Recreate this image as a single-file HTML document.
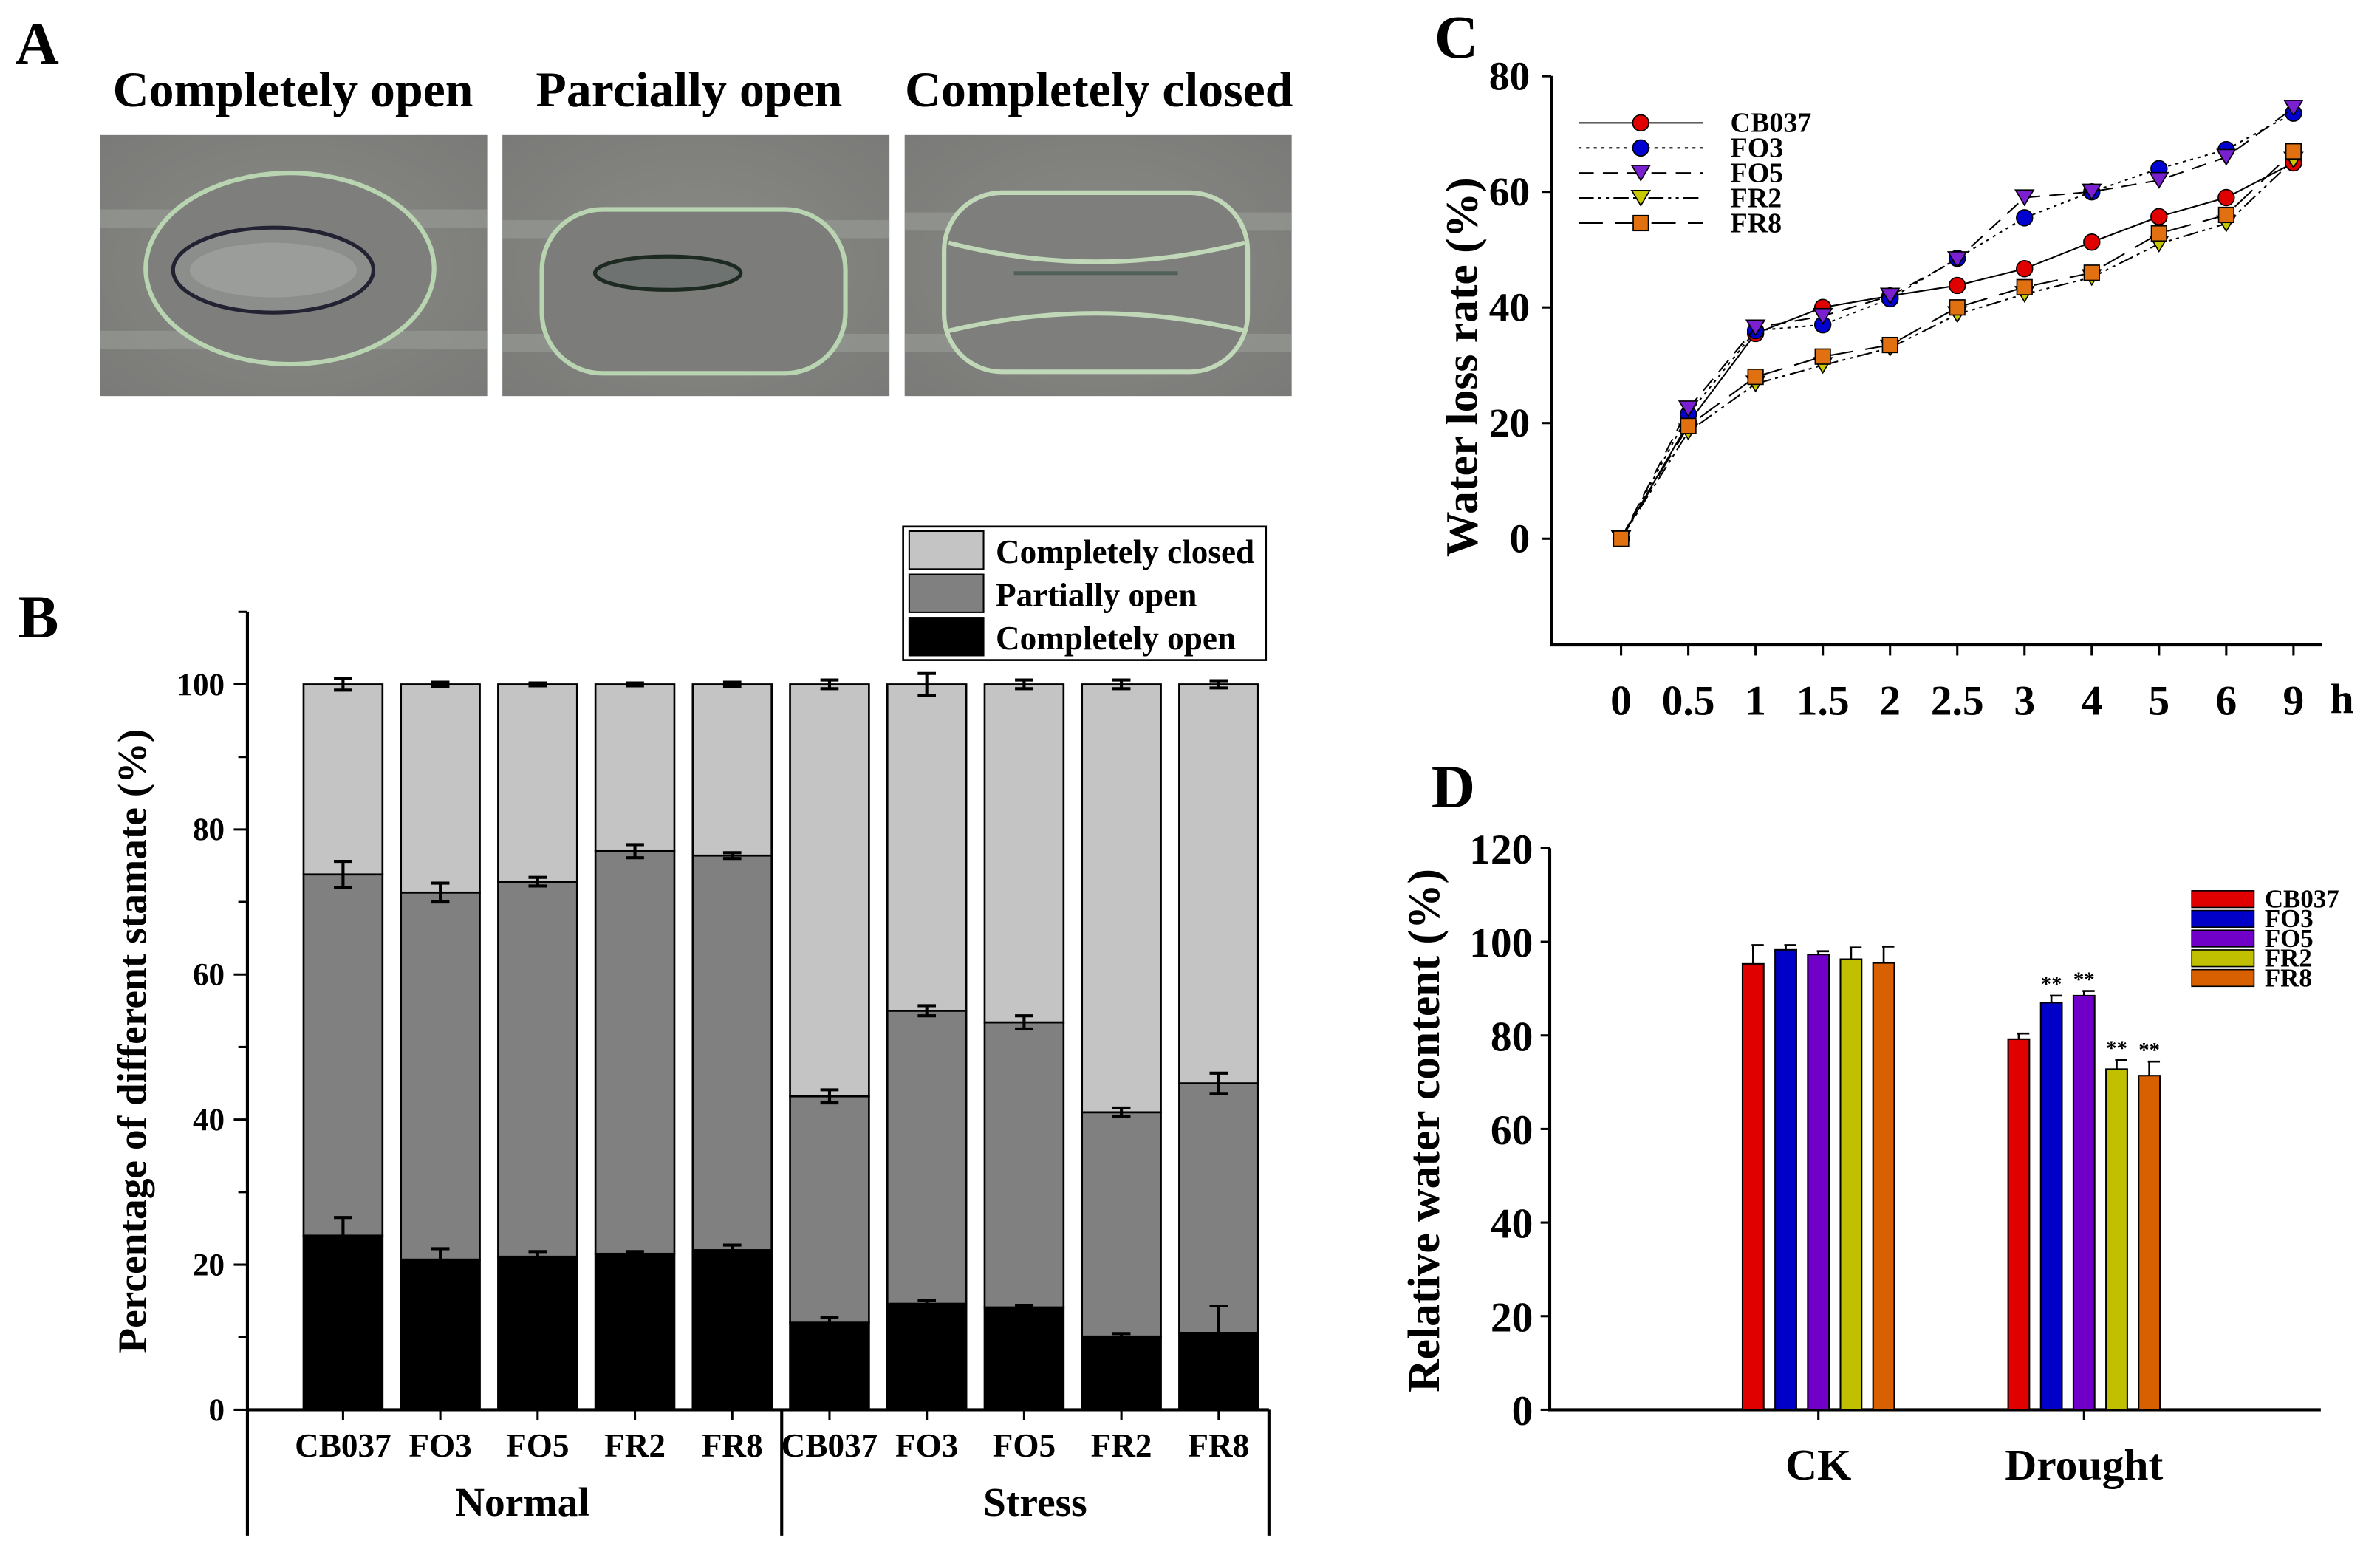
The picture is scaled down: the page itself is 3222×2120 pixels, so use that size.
<!DOCTYPE html>
<html><head><meta charset="utf-8">
<style>
html,body{margin:0;padding:0;background:#fff;}
svg{display:block;font-family:"Liberation Serif",serif;font-weight:bold;}
</style></head>
<body>
<svg id="fig" width="3222" height="2120" viewBox="0 0 1568 1032" preserveAspectRatio="none" xmlns="http://www.w3.org/2000/svg">
<defs>
<radialGradient id="bg" cx="50%" cy="50%" r="70%"><stop offset="0" stop-color="#8a8a86"/><stop offset="1" stop-color="#7a7a78"/></radialGradient>
</defs>
<g>
<text x="10" y="42" font-size="40">A</text>
<text x="193" y="70" font-size="33" text-anchor="middle">Completely open</text>
<text x="454" y="70" font-size="33" text-anchor="middle">Parcially open</text>
<text x="724" y="70" font-size="33" text-anchor="middle">Completely closed</text>
<g>
<rect x="66" y="89" width="255" height="172" fill="url(#bg)"/>
<rect x="66" y="138" width="255" height="12" fill="#9a9c98" opacity="0.6"/>
<rect x="66" y="218" width="255" height="12" fill="#9a9c98" opacity="0.6"/>
<ellipse cx="191" cy="177" rx="95" ry="63" fill="#7e7e7c" stroke="#b8d4b0" stroke-width="3"/>
<ellipse cx="180" cy="178" rx="66" ry="28" fill="#8c8e8c" stroke="#223" stroke-width="2.5"/>
<ellipse cx="180" cy="178" rx="55" ry="18" fill="#a0a4a0" opacity="0.7"/>
</g>
<g>
<rect x="331" y="89" width="255" height="172" fill="url(#bg)"/>
<rect x="331" y="145" width="255" height="12" fill="#9a9c98" opacity="0.6"/>
<rect x="331" y="220" width="255" height="12" fill="#9a9c98" opacity="0.6"/>
<rect x="357" y="138" width="200" height="108" rx="40" fill="#7c7c7a" stroke="#b8d4b0" stroke-width="3"/>
<ellipse cx="440" cy="180" rx="48" ry="11" fill="#6e7270" stroke="#1d2a22" stroke-width="2.5"/>
</g>
<g>
<rect x="596" y="89" width="255" height="172" fill="url(#bg)"/>
<rect x="596" y="140" width="255" height="12" fill="#9a9c98" opacity="0.6"/>
<rect x="596" y="220" width="255" height="12" fill="#9a9c98" opacity="0.6"/>
<rect x="622" y="127" width="200" height="118" rx="38" fill="#7e7e7c" stroke="#c0d8b8" stroke-width="3"/>
<path d="M625 160 Q722 185 820 160" fill="none" stroke="#c0d8b8" stroke-width="3"/>
<path d="M625 218 Q722 195 820 218" fill="none" stroke="#c0d8b8" stroke-width="3"/>
<line x1="668" y1="180" x2="776" y2="180" stroke="#50605a" stroke-width="2.5"/>
</g>
</g>
<g id="pb"></g>
<g id="pc"></g>
<g id="pd"></g>
</svg>
<script>
// ---------- Panel B data ----------
const bCategories = ["CB037","FO3","FO5","FR2","FR8","CB037","FO3","FO5","FR2","FR8"];
const bGroups = ["Normal","Stress"];
const bOpen = [24,20.7,21.1,21.5,22,12,14.6,14.1,10.1,10.6];
const bPartialTop = [73.8,71.3,72.8,77,76.4,43.2,55,53.4,41,45];
const bTotal = [100,100,100,100,100,100,100,100,100,100];
const bOpenErr = [2.5,1.5,0.7,0.3,0.7,0.7,0.5,0.3,0.4,3.7];
const bPartialErr = [1.8,1.3,0.6,0.9,0.4,0.9,0.7,0.9,0.6,1.4];
const bClosedErr = [0.8,0.3,0.2,0.2,0.3,0.6,1.5,0.6,0.6,0.5];
const bTicks = [0,20,40,60,80,100];
// ---------- Panel C data ----------
const cTimes = ["0","0.5","1","1.5","2","2.5","3","4","5","6","9"];
const cNames = ["CB037","FO3","FO5","FR2","FR8"];
const cCB037 = [0,20,35.5,40,42,43.8,46.7,51.3,55.7,59,65];
const cFO3 = [0,21.5,36,37,41.5,48.5,55.5,60,64,67.3,73.6];
const cFO5 = [0,22.5,36.5,38.5,42,48.3,59,60,62,66,74.5];
const cFR2 = [0,18.5,26.8,30,33,38.8,42.3,45.2,51,54.5,65.5];
const cFR8 = [0,19.5,28,31.5,33.5,40,43.5,46,52.8,56,67];
const cTicks = [0,20,40,60,80];
// ---------- Panel D data ----------
const dGroups = ["CK","Drought"];
const dNames = ["CB037","FO3","FO5","FR2","FR8"];
const dCK = [95.3,98.3,97.3,96.3,95.5];
const dCKErr = [4,1,0.7,2.5,3.5];
const dDrought = [79.2,87,88.5,72.8,71.4];
const dDroughtErr = [1.2,1.5,1,2,3];
const dSig = ["","**","**","**","**"];
const dTicks = [0,20,40,60,80,100,120];

const NS="http://www.w3.org/2000/svg";
function mk(parent,tag,attrs,text){const e=document.createElementNS(NS,tag);for(const k in attrs)e.setAttribute(k,attrs[k]);if(text!==undefined)e.textContent=text;parent.appendChild(e);return e;}

// ===== Panel B =====
(function(){
const g=document.getElementById('pb');
const yB=v=>929-v*4.78;
const xB=i=>226+i*64.1;
const bw=52;
let t=mk(g,'text',{x:12,y:420,'font-size':40});
t.textContent='B';
const st={stroke:'#000','stroke-width':1.3};
bCategories.forEach((c,i)=>{
 const x=xB(i)-bw/2;
 const segs=[[0,bOpen[i],'#000','open'],[bOpen[i],bPartialTop[i],'#808080','partial'],[bPartialTop[i],bTotal[i],'#c4c4c4','closed']];
 segs.forEach(s=>{
  const r=mk(g,'rect',Object.assign({x:x,y:yB(s[1]),width:bw,height:yB(s[0])-yB(s[1]),fill:s[2]},st));
  
  
 });
 [[bOpen[i],bOpenErr[i]],[bPartialTop[i],bPartialErr[i]],[bTotal[i],bClosedErr[i]]].forEach(e=>{
  const p=mk(g,'path',{d:`M${xB(i)} ${yB(e[0]+e[1])}V${yB(e[0]-e[1])}M${xB(i)-6} ${yB(e[0]+e[1])}h12M${xB(i)-6} ${yB(e[0]-e[1])}h12`,stroke:'#000','stroke-width':2,fill:'none'});
  
  
 });
 const l=mk(g,'text',{x:xB(i),y:960,'font-size':22,'text-anchor':'middle'},c);
 
 
 mk(g,'line',{x1:xB(i),y1:929,x2:xB(i),y2:936,stroke:'#000','stroke-width':1.5});
});
mk(g,'path',{d:'M163 403V1012M163 929H836M515 929V1012M836 929V1012',stroke:'#000','stroke-width':2,fill:'none'});
for(let v=0;v<=110;v+=10){mk(g,'line',{x1:v%20==0?154:157,y1:yB(v),x2:163,y2:yB(v),stroke:'#000','stroke-width':1.5});}
bTicks.forEach(v=>{const l=mk(g,'text',{x:148,y:yB(v)+7,'font-size':21,'text-anchor':'end'},v);
 });
bGroups.forEach((n,k)=>{const l=mk(g,'text',{x:k?682:344,y:999,'font-size':27,'text-anchor':'middle'},n);
 });
const yl=mk(g,'text',{x:0,y:0,'font-size':27,'text-anchor':'middle',transform:'translate(96 686) rotate(-90)'},'Percentage of different stamate (%)');

const lg=mk(g,'g',{});

mk(lg,'rect',{x:595,y:347,width:239,height:88,fill:'#fff',stroke:'#000','stroke-width':1.3});
[['Completely closed','#c4c4c4'],['Partially open','#808080'],['Completely open','#000']].forEach((e,k)=>{
 mk(lg,'rect',{x:599,y:350+k*28.5,width:49,height:25,fill:e[1],stroke:'#000','stroke-width':1});
 const l=mk(lg,'text',{x:656,y:371+k*28.5,'font-size':22},e[0]);
 
});
})();

// ===== Panel C =====
(function(){
const g=document.getElementById('pc');
const yC=v=>355-v*3.81;
const xC=i=>1068+i*44.3;
let t=mk(g,'text',{x:945,y:38,'font-size':40},'C');

mk(g,'path',{d:'M1022 50V425H1530',stroke:'#000','stroke-width':2,fill:'none'});
cTicks.forEach(v=>{mk(g,'line',{x1:1016,y1:yC(v),x2:1022,y2:yC(v),stroke:'#000','stroke-width':1.5});
 const l=mk(g,'text',{x:1008,y:yC(v)+9,'font-size':27,'text-anchor':'end'},v);
 });
cTimes.forEach((c,i)=>{mk(g,'line',{x1:xC(i),y1:425,x2:xC(i),y2:432,stroke:'#000','stroke-width':1.5});
 const l=mk(g,'text',{x:xC(i),y:471,'font-size':28,'text-anchor':'middle'},c);
 });
let h=mk(g,'text',{x:1543,y:470,'font-size':28,'text-anchor':'middle'},'h');

const yl=mk(g,'text',{x:0,y:0,'font-size':30,'text-anchor':'middle',transform:'translate(973 242) rotate(-90)'},'Water loss rate (%)');

const series=[cCB037,cFO3,cFO5,cFR2,cFR8];
const cols=['#e00000','#0000d0','#7a20d0','#c8c800','#e07010'];
const dash=['','2,3','10,6','10,3,2,3,2,3','16,8'];
const shp=['c','c','v','v','s'];
function marker(p,x,y,k){let m;
 if(shp[k]=='c')m=mk(p,'circle',{cx:x,cy:y,r:5.3,fill:cols[k],stroke:'#000','stroke-width':0.8});
 else if(shp[k]=='v')m=mk(p,'path',{d:`M${x-6} ${y-5}h12l-6 10z`,fill:cols[k],stroke:'#000','stroke-width':0.8});
 else m=mk(p,'rect',{x:x-5,y:y-5,width:10,height:10,fill:cols[k],stroke:'#000','stroke-width':0.8});
 return m;}
series.forEach((s,k)=>{
 const sg=mk(g,'g',{});
 
 mk(sg,'polyline',{points:s.map((v,i)=>xC(i)+','+yC(v)).join(' '),fill:'none',stroke:'#000','stroke-width':1,'stroke-dasharray':dash[k]});
 s.forEach((v,i)=>{const m=marker(sg,xC(i),yC(v),k);
  });
 const ly=81+k*16.5;
 mk(g,'line',{x1:1040,y1:ly,x2:1122,y2:ly,stroke:'#000','stroke-width':1,'stroke-dasharray':dash[k]});
 marker(g,1081,ly,k);
 const l=mk(g,'text',{x:1140,y:ly+6,'font-size':18.5},cNames[k]);
 
});
})();

// ===== Panel D =====
(function(){
const g=document.getElementById('pd');
const yD=v=>929-v*3.083;
const gc=[1198,1373];
const bw=14, sp=21.5;
let t=mk(g,'text',{x:943,y:532,'font-size':40},'D');

mk(g,'path',{d:'M1021 559V929H1529',stroke:'#000','stroke-width':2,fill:'none'});
dTicks.forEach(v=>{mk(g,'line',{x1:1015,y1:yD(v),x2:1021,y2:yD(v),stroke:'#000','stroke-width':1.5});
 const l=mk(g,'text',{x:1010,y:yD(v)+10,'font-size':28,'text-anchor':'end'},v);
 });
const yl=mk(g,'text',{x:0,y:0,'font-size':30,'text-anchor':'middle',transform:'translate(948 745) rotate(-90)'},'Relative water content (%)');

const cols=['#e00000','#0000c8','#7000c8','#c0c000','#d86000'];
[[dCK,dCKErr],[dDrought,dDroughtErr]].forEach((grp,gi)=>{
 mk(g,'line',{x1:gc[gi],y1:929,x2:gc[gi],y2:936,stroke:'#000','stroke-width':1.5});
 const l=mk(g,'text',{x:gc[gi],y:975,'font-size':29,'text-anchor':'middle'},dGroups[gi]);
 
 grp[0].forEach((v,i)=>{
  const cx=gc[gi]+(i-2)*sp;
  const r=mk(g,'rect',{x:cx-bw/2,y:yD(v),width:bw,height:yD(0)-yD(v),fill:cols[i],stroke:'#000','stroke-width':1});
  
  
  const e=grp[1][i];
  mk(g,'path',{d:`M${cx} ${yD(v)}V${yD(v+e)}M${cx-1} ${yD(v+e)}h${bw/2+1}`,stroke:'#000','stroke-width':1.3,fill:'none'});
  if(gi==1&&dSig[i]){const s=mk(g,'text',{x:cx,y:yD(v+e)-3,'font-size':14,'text-anchor':'middle'},dSig[i]);
   }
 });
});
dNames.forEach((n,k)=>{
 mk(g,'rect',{x:1444,y:587+k*13,width:41,height:11,fill:cols[k],stroke:'#000','stroke-width':0.8});
 const l=mk(g,'text',{x:1492,y:598+k*13,'font-size':17},n);
 
});
})();
</script>
</body></html>
